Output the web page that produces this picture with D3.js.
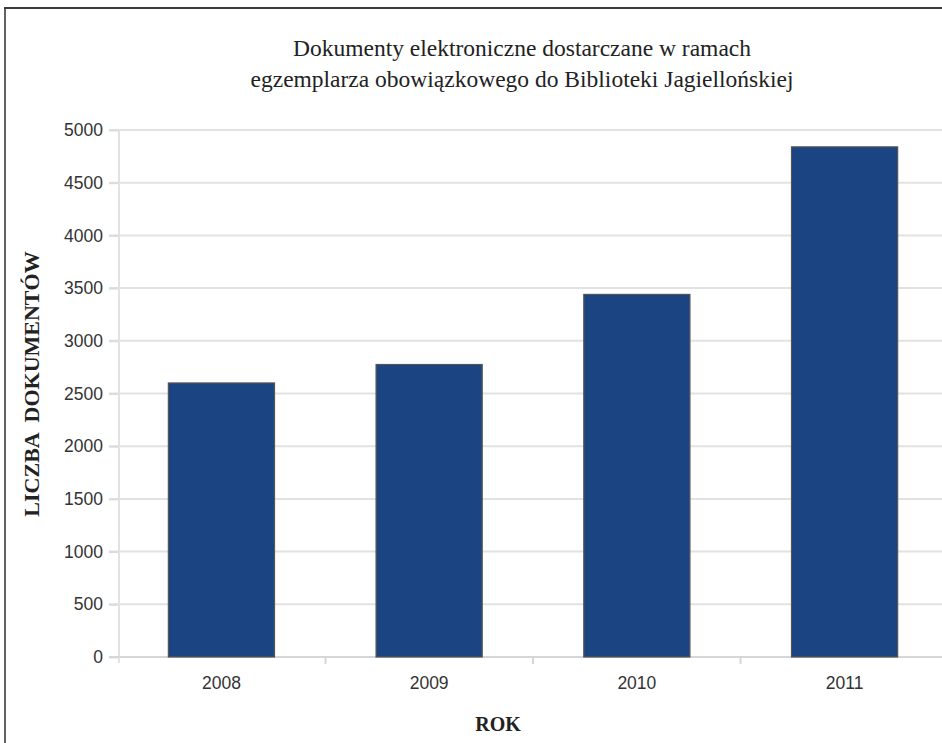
<!DOCTYPE html>
<html>
<head>
<meta charset="utf-8">
<script src="https://cdn.jsdelivr.net/npm/d3@7"></script>
<style>
html,body{margin:0;padding:0;background:#fff;}
svg{display:block;}
</style>
</head>
<body>
<svg id="chart" width="942" height="743"></svg>
<script>
const years = ["2008", "2009", "2010", "2011"];
const counts = [2600, 2775, 3440, 4840];
const yTicks = [0, 500, 1000, 1500, 2000, 2500, 3000, 3500, 4000, 4500, 5000];
const titleLines = ["Dokumenty elektroniczne dostarczane w ramach", "egzemplarza obowiązkowego do Biblioteki Jagiellońskiej"];
const yLabel = "LICZBA  DOKUMENTÓW";
const xLabel = "ROK";

(function () {
const svg = d3.select("#chart");
const W = 942, H = 743;
const pLeft = 118, pRight = 948, pTop = 130, pBottom = 657;

const x = d3.scaleBand().domain(years).range([pLeft, pRight]).paddingInner(0.489).paddingOuter(0.2424);
const xCat = d3.scaleBand().domain(years).range([pLeft, pRight]).padding(0);
const y = d3.scaleLinear().domain([0, 5000]).range([pBottom, pTop]);

// frame
svg.append("line").attr("x1", 4).attr("x2", W).attr("y1", 8).attr("y2", 8)
  .attr("stroke", "#3a3a3a").attr("stroke-width", 2.2);
svg.append("line").attr("x1", 5).attr("x2", 5).attr("y1", 8).attr("y2", H)
  .attr("stroke", "#3a3a3a").attr("stroke-width", 1.6);

// gridlines
svg.append("g").selectAll("line").data(yTicks.filter(d => d > 0)).join("line")
  .attr("x1", 109).attr("x2", W)
  .attr("y1", d => y(d)).attr("y2", d => y(d))
  .attr("stroke", "#e2e2e2").attr("stroke-width", 2);

// y axis
const yAxis = d3.axisLeft(y).tickValues(yTicks).tickSize(10).tickPadding(6).tickFormat(d3.format("d"));
const gy = svg.append("g").attr("transform", `translate(${pLeft + 1},0)`).call(yAxis);
gy.select(".domain").remove();
gy.selectAll(".tick line").attr("stroke", "#dcdcdc").attr("stroke-width", 2);
gy.selectAll(".tick text").attr("fill", "#333").attr("font-family", "'Liberation Sans', Arial, sans-serif")
  .attr("font-size", 17.5);
svg.append("line").attr("x1", pLeft + 1).attr("x2", pLeft + 1).attr("y1", pTop).attr("y2", pBottom + 6)
  .attr("stroke", "#e2e2e2").attr("stroke-width", 2);

// x axis
svg.append("line").attr("x1", 109).attr("x2", W).attr("y1", pBottom).attr("y2", pBottom)
  .attr("stroke", "#d6d6d6").attr("stroke-width", 2);
svg.append("g").selectAll("line").data(years.slice(1)).join("line")
  .attr("x1", d => xCat(d)).attr("x2", d => xCat(d))
  .attr("y1", pBottom).attr("y2", pBottom + 7)
  .attr("stroke", "#d6d6d6").attr("stroke-width", 2);
svg.append("g").selectAll("text").data(years).join("text")
  .attr("x", d => x(d) + x.bandwidth() / 2).attr("y", 689)
  .attr("text-anchor", "middle").attr("fill", "#333")
  .attr("font-family", "'Liberation Sans', Arial, sans-serif").attr("font-size", 17.5)
  .text(d => d);

// bars
svg.append("g").selectAll("rect").data(years).join("rect")
  .attr("x", d => x(d)).attr("width", x.bandwidth())
  .attr("y", (d, i) => y(counts[i])).attr("height", (d, i) => pBottom - y(counts[i]))
  .attr("fill", "#1b4582").attr("stroke", "#555").attr("stroke-width", 1.2);

// title
const tt = svg.append("g").attr("font-family", "'Liberation Serif', 'Times New Roman', serif")
  .attr("font-size", 23.5).attr("fill", "#222").attr("text-anchor", "middle");
tt.selectAll("text").data(titleLines).join("text")
  .attr("x", 522).attr("y", (d, i) => 56 + i * 31).text(d => d);

// axis labels
svg.append("text").attr("transform", "translate(39,384) rotate(-90)")
  .attr("text-anchor", "middle").attr("font-family", "'Liberation Serif', 'Times New Roman', serif")
  .attr("font-weight", "bold").attr("font-size", 22).attr("fill", "#222")
  .style("white-space", "pre").text(yLabel);
svg.append("text").attr("x", 498).attr("y", 731)
  .attr("text-anchor", "middle").attr("font-family", "'Liberation Serif', 'Times New Roman', serif")
  .attr("font-weight", "bold").attr("font-size", 20).attr("fill", "#222").text(xLabel);
})();
</script>
</body>
</html>
